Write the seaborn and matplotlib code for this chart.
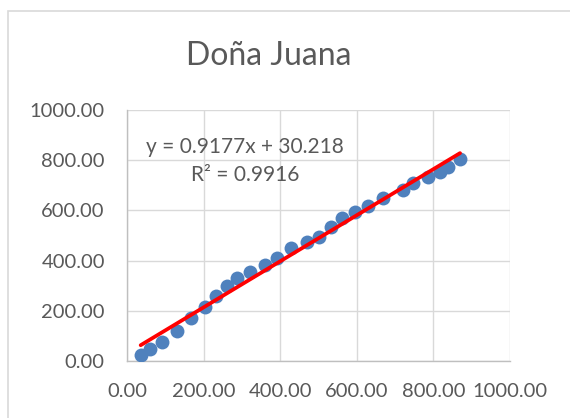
import numpy as np
import pandas as pd
import matplotlib
matplotlib.use("Agg")
import matplotlib.pyplot as plt
import seaborn as sns
from matplotlib.patches import Rectangle

# Observed values for Doña Juana
x_vals = [35.7, 60, 90.5, 129.7, 166, 203.6, 232, 260, 288, 321, 360, 391, 427,
          469, 500, 532, 560.5, 595, 630, 669, 721, 747.5, 787, 817, 839, 869.5]
y_vals = [24, 46.6, 77, 121, 170, 216, 259, 299, 329, 356, 382, 409, 449,
          475, 495, 535, 568.5, 595, 617, 648, 681, 708, 732, 754, 772, 803]

# Linear trend line as reported
slope = 0.9177
intercept = 30.218
r_squared = 0.9916

title = "Doña Juana"
ticks = [0, 200, 400, 600, 800, 1000]

sns.set_theme(style="white")
plt.rcParams["font.family"] = ["Lato", "DejaVu Sans"]

text_color = "#595959"
grid_color = "#d9d9d9"

fig = plt.figure(figsize=(5.7, 4.18), dpi=100)
fig.patch.set_facecolor("white")
ax = fig.add_axes([127 / 570, 1 - 361 / 418, (510 - 127) / 570, (361 - 110) / 418])

df = pd.DataFrame({"x": x_vals, "y": y_vals})
sns.scatterplot(data=df, x="x", y="y", ax=ax, s=100, color="#4f81bd",
                edgecolor="#4f81bd", linewidth=0, zorder=3)

xs = np.array([min(x_vals), max(x_vals)])
trend = pd.DataFrame({"x": xs, "y": slope * xs + intercept})
sns.lineplot(data=trend, x="x", y="y", ax=ax, color="#ff0000", linewidth=2.7, zorder=4)

ax.set_xlim(0, 1000)
ax.set_ylim(0, 1000)
ax.set_xticks(ticks)
ax.set_yticks(ticks)
ax.set_xticklabels([f"{t:.2f}" for t in ticks])
ax.set_yticklabels([f"{t:.2f}" for t in ticks])
ax.tick_params(axis="both", labelsize=14.5, colors=text_color, length=0)
ax.tick_params(axis="x", pad=16)
ax.tick_params(axis="y", pad=16)
ax.set_xlabel("")
ax.set_ylabel("")

ax.grid(True, color=grid_color, linewidth=1)
ax.set_axisbelow(True)
for side in ["top", "right"]:
    ax.spines[side].set_visible(False)
for side in ["left", "bottom"]:
    ax.spines[side].set_color("#bfbfbf")
    ax.spines[side].set_linewidth(1)

ax.text(245 / 570, 1 - 147 / 418, f"y = {slope}x + {intercept}",
        transform=fig.transFigure, ha="center", va="center",
        fontsize=15, color=text_color)
ax.text(245 / 570, 1 - 175 / 418, f"R² = {r_squared}",
        transform=fig.transFigure, ha="center", va="center",
        fontsize=15, color=text_color)

fig.text(269 / 570, 1 - 56 / 418, title, ha="center", va="center",
         fontsize=23, color=text_color)

# Chart area outline
fig.add_artist(Rectangle((8 / 570, -0.05), 1.1, 1 - 11 / 418 + 0.05,
                         transform=fig.transFigure, fill=False,
                         edgecolor="#d9d9d9", linewidth=1.2))

fig.savefig("out.png", dpi=100)
